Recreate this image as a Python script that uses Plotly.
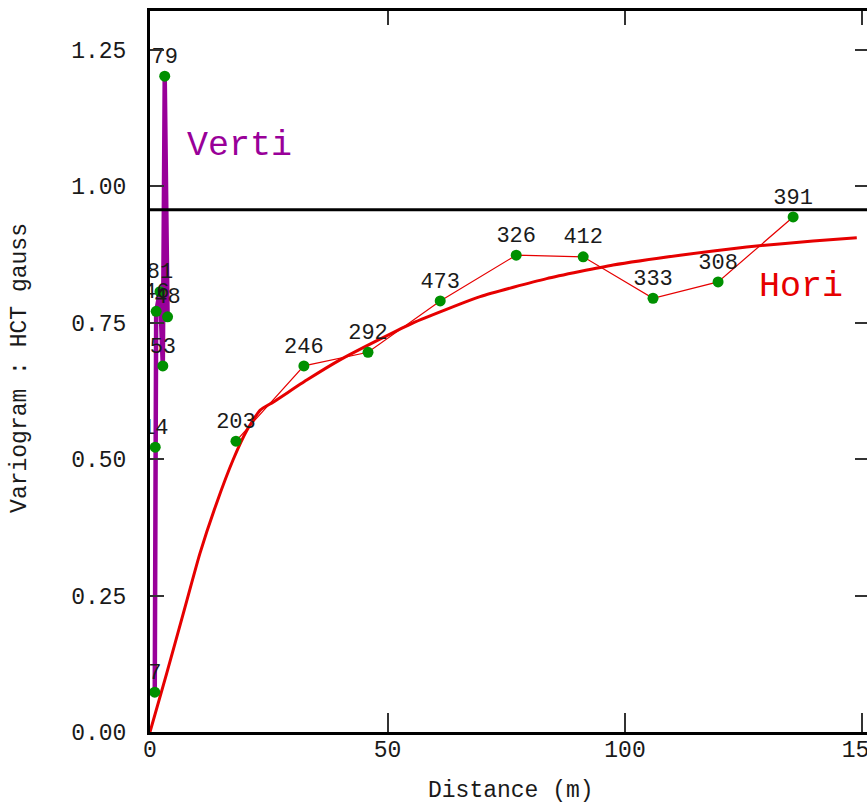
import plotly.graph_objects as go

# Horizontal experimental variogram: lag distance, value, number of pairs
hori_lag = [18.1, 32.4, 45.9, 61.1, 77.1, 91.2, 105.9, 119.6, 135.4]
hori_gamma = [0.533, 0.671, 0.696, 0.790, 0.874, 0.871, 0.795, 0.825, 0.944]
hori_pairs = ["203", "246", "292", "473", "326", "412", "333", "308", "391"]

# Horizontal fitted model, sampled along the curve
hori_model_x = [0, 3.5, 7, 10.5, 14, 17.5, 20.4, 23.2, 26, 33, 40, 48.4, 55.4,
                69.5, 83.5, 97.5, 111.6, 125.6, 139.6, 148.8]
hori_model_y = [0, 0.107, 0.217, 0.327, 0.419, 0.499, 0.553, 0.590, 0.605, 0.645,
                0.682, 0.720, 0.750, 0.798, 0.831, 0.856, 0.874, 0.889, 0.900, 0.906]

# Vertical experimental variogram
vert_lag = [1.0, 1.1, 1.3, 2.1, 2.7, 3.1, 3.7]
vert_gamma = [0.073, 0.522, 0.771, 0.807, 0.671, 1.202, 0.761]
vert_pairs = ["7", "14", "46", "81", "53", "79", "48"]

SILL = 0.957
X_TICKS = [0, 50, 100, 150]
Y_TICKS = [0, 0.25, 0.5, 0.75, 1.0, 1.25]
X_RANGE = [0, 150.95]
Y_RANGE = [0, 1.3215]

FONT = "Liberation Mono"
RED = "#e60000"
PURPLE = "#990099"
GREEN = "#009000"

fig = go.Figure()

# model curve
fig.add_trace(go.Scatter(
    x=hori_model_x, y=hori_model_y, mode="lines",
    line=dict(color=RED, width=3, shape="spline", smoothing=0.5),
    hoverinfo="skip", showlegend=False))

# experimental polylines
fig.add_trace(go.Scatter(
    x=hori_lag, y=hori_gamma, mode="lines",
    line=dict(color=RED, width=1.2), showlegend=False))
fig.add_trace(go.Scatter(
    x=vert_lag, y=vert_gamma, mode="lines",
    line=dict(color=PURPLE, width=4.5), showlegend=False))

# lag points with pair counts
for xs, ys, labels in [(hori_lag, hori_gamma, hori_pairs),
                       (vert_lag, vert_gamma, vert_pairs)]:
    fig.add_trace(go.Scatter(
        x=xs, y=ys, mode="markers+text", text=labels,
        textposition="top center",
        textfont=dict(family=FONT, size=22, color="#1a1a1a"),
        marker=dict(color=GREEN, size=11), cliponaxis=True,
        showlegend=False))

# invisible helper so the top/right tick axes are drawn
fig.add_trace(go.Scatter(x=[None], y=[None], yaxis="y2", xaxis="x2",
                         showlegend=False, hoverinfo="skip"))

fig.add_shape(type="line", xref="paper", yref="y", x0=0, x1=1, y0=SILL, y1=SILL,
              line=dict(color="black", width=3))

fig.add_annotation(x=7.4, y=1.074, xref="x", yref="y", text="Verti",
                   showarrow=False, xanchor="left", yanchor="middle",
                   font=dict(family=FONT, size=35, color=PURPLE))
fig.add_annotation(x=127.8, y=0.816, xref="x", yref="y", text="Hori",
                   showarrow=False, xanchor="left", yanchor="middle",
                   font=dict(family=FONT, size=35, color=RED))

fig.add_annotation(x=0.5035, y=-0.0818, xref="paper", yref="paper",
                   text="Distance (m)", showarrow=False,
                   xanchor="center", yanchor="middle",
                   font=dict(family=FONT, size=23, color="#1a1a1a"))
fig.add_annotation(x=-0.1813, y=0.505, xref="paper", yref="paper",
                   text="Variogram : HCT gauss", showarrow=False, textangle=-90,
                   xanchor="center", yanchor="middle",
                   font=dict(family=FONT, size=23, color="#1a1a1a"))

axis_font = dict(family=FONT, size=23, color="#1a1a1a")

fig.update_layout(
    width=867, height=804,
    margin=dict(l=150, r=0, t=11, b=72, autoexpand=False),
    paper_bgcolor="white", plot_bgcolor="white",
    xaxis=dict(range=X_RANGE, tickvals=X_TICKS, ticktext=[str(v) for v in X_TICKS],
               showgrid=False, zeroline=False, showline=True, linecolor="black",
               linewidth=3, ticks="inside", ticklen=19, tickwidth=1.5,
               tickcolor="#333", tickfont=axis_font, ticklabelstandoff=-6,
               ticklabeloverflow="allow", automargin=False),
    xaxis2=dict(range=X_RANGE, overlaying="x", side="top", tickvals=X_TICKS,
                showticklabels=False, showgrid=False, zeroline=False,
                showline=True, linecolor="black", linewidth=3, automargin=False,
                ticks="inside", ticklen=14, tickwidth=1.5, tickcolor="#333"),
    yaxis=dict(range=Y_RANGE, tickvals=Y_TICKS,
               ticktext=[f"{v:.2f}" for v in Y_TICKS],
               showgrid=False, zeroline=False, showline=True, linecolor="black",
               linewidth=3, ticks="inside", ticklen=14, tickwidth=1.5,
               tickcolor="#333", tickfont=axis_font, ticklabelstandoff=16,
               automargin=False),
    yaxis2=dict(range=Y_RANGE, overlaying="y", side="right", tickvals=Y_TICKS,
                showticklabels=False, showgrid=False, zeroline=False,
                showline=False, ticks="inside", ticklen=12, tickwidth=1.5,
                tickcolor="#333", automargin=False),
)

fig.write_html("out.html")
